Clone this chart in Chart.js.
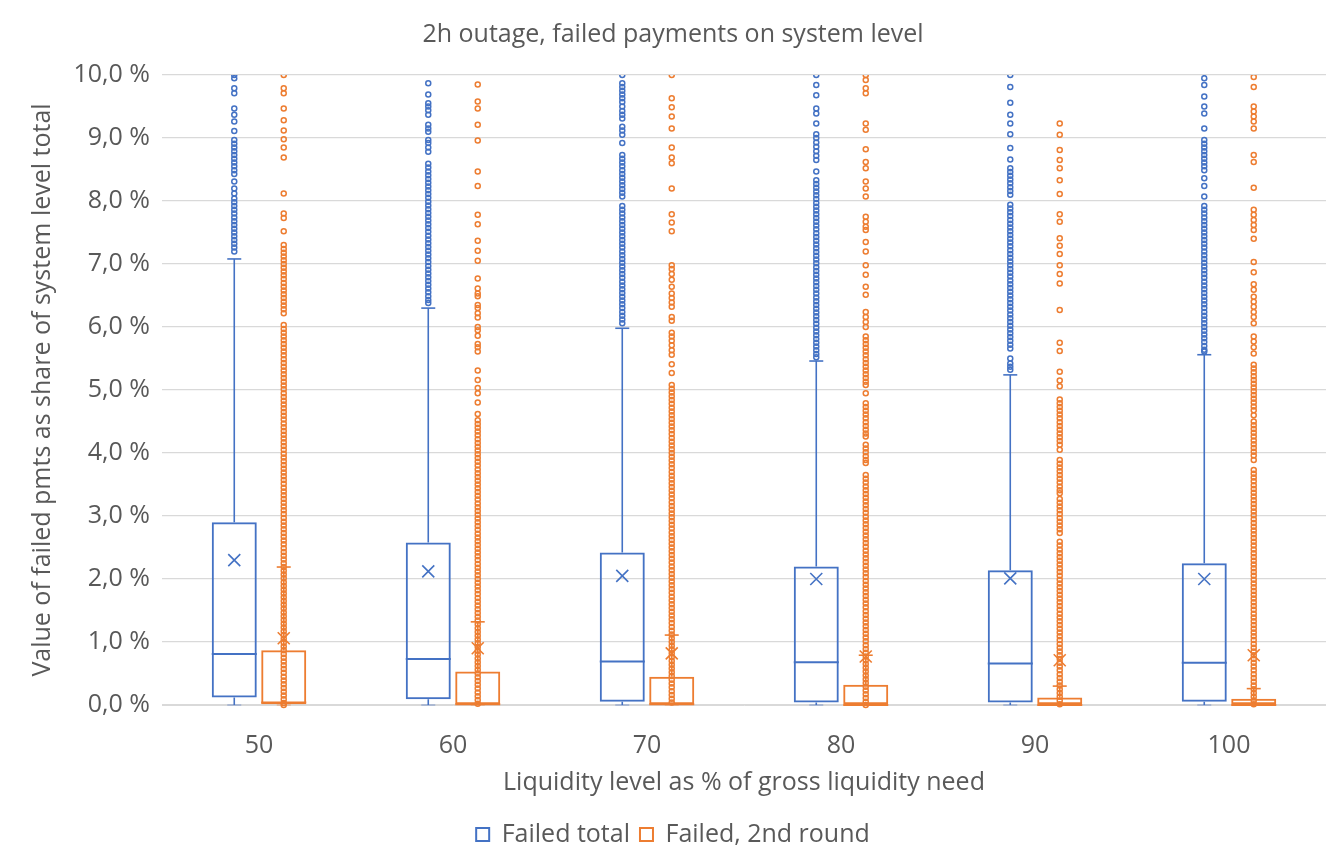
<!DOCTYPE html>
<html>
<head>
<meta charset="utf-8">
<title>2h outage, failed payments on system level</title>
<script src="https://cdn.jsdelivr.net/npm/chart.js@4.4.1/dist/chart.umd.min.js"></script>
<style>
    html, body { margin: 0; padding: 0; background: #fff; }
    #wrap { width: 1326px; height: 866px; position: relative; }
</style>
</head>
<body>
<div id="wrap"><canvas id="boxChart"></canvas></div>
<script>
// --- DATA (values in % of system level total) ---
const categories = ['50', '60', '70', '80', '90', '100'];

// Failed total: box statistics
const totalMin    = [0, 0, 0, 0, 0, 0];
const totalQ1     = [0.12, 0.09, 0.05, 0.04, 0.04, 0.05];
const totalMedian = [0.81, 0.73, 0.69, 0.68, 0.66, 0.67];
const totalQ3     = [2.90, 2.58, 2.42, 2.20, 2.14, 2.25];
const totalMean   = [2.30, 2.12, 2.05, 2.00, 2.01, 2.00];
const totalMax    = [7.08, 6.30, 5.98, 5.46, 5.24, 5.56];

// Failed, 2nd round: box statistics
const roundMin    = [0, 0, 0, 0, 0, 0];
const roundQ1     = [0, 0, 0, 0, 0, 0];
const roundMedian = [0.04, 0.01, 0.01, 0.0, 0.0, 0.0];
const roundQ3     = [0.87, 0.53, 0.45, 0.32, 0.12, 0.10];
const roundMean   = [1.06, 0.90, 0.82, 0.77, 0.71, 0.79];
const roundMax    = [2.19, 1.32, 1.11, 0.79, 0.30, 0.26];

// Failed total: outliers shown above the whisker
const totalPoints50 = [10.0, 9.95, 9.79, 9.71, 9.47, 9.37, 9.26, 9.11, 8.97, 8.91, 8.85, 8.79, 8.73, 8.67, 8.61, 8.55, 8.49, 8.43,
    8.31, 8.20, 8.12, 8.04, 7.98, 7.92, 7.86, 7.80, 7.74, 7.68, 7.62, 7.56, 7.50, 7.44, 7.38, 7.32, 7.26, 7.20];
const totalPoints60 = [9.87, 9.69, 9.55, 9.50, 9.44, 9.37, 9.21, 9.15, 9.10, 8.97, 8.92, 8.85, 8.78, 8.59, 8.53, 8.47, 8.41, 8.35,
    8.29, 8.23, 8.17, 8.11, 8.05, 7.99, 7.93, 7.87, 7.81, 7.75, 7.69, 7.63, 7.57, 7.51, 7.45, 7.39, 7.33, 7.27, 7.21, 7.15, 7.09,
    7.03, 6.97, 6.91, 6.85, 6.79, 6.73, 6.67, 6.61, 6.55, 6.49, 6.43, 6.38];
const totalPoints70 = [10.0, 9.87, 9.81, 9.75, 9.69, 9.63, 9.57, 9.50, 9.43, 9.37, 9.31, 9.18, 9.12, 9.05, 8.92, 8.73, 8.67, 8.61,
    8.55, 8.49, 8.43, 8.37, 8.31, 8.25, 8.19, 8.13, 8.07, 7.92, 7.86, 7.80, 7.74, 7.68, 7.62, 7.56, 7.50, 7.44, 7.38, 7.32, 7.26,
    7.20, 7.14, 7.08, 7.02, 6.96, 6.90, 6.84, 6.78, 6.72, 6.66, 6.60, 6.54, 6.48, 6.42, 6.36, 6.30, 6.24, 6.18, 6.12, 6.06];
const totalPoints80 = [10.0, 9.84, 9.68, 9.47, 9.39, 9.23, 9.06, 9.00, 8.93, 8.86, 8.79, 8.72, 8.65, 8.47, 8.33, 8.27, 8.21, 8.15,
    8.09, 8.03, 7.97, 7.91, 7.85, 7.79, 7.73, 7.67, 7.61, 7.55, 7.49, 7.43, 7.37, 7.31, 7.25, 7.19, 7.13, 7.07, 7.01, 6.95, 6.89,
    6.83, 6.77, 6.71, 6.65, 6.59, 6.53, 6.47, 6.41, 6.35, 6.29, 6.23, 6.17, 6.11, 6.05, 5.99, 5.93, 5.87, 5.81, 5.75, 5.69, 5.63,
    5.57, 5.52];
const totalPoints90 = [10.0, 9.81, 9.56, 9.37, 9.23, 9.06, 8.84, 8.66, 8.52, 8.46, 8.40, 8.34, 8.28, 8.22, 8.16, 8.10, 7.94, 7.88,
    7.82, 7.76, 7.70, 7.64, 7.58, 7.52, 7.46, 7.40, 7.34, 7.28, 7.22, 7.16, 7.10, 7.04, 6.98, 6.92, 6.86, 6.80, 6.74, 6.68, 6.62,
    6.56, 6.50, 6.44, 6.38, 6.32, 6.26, 6.20, 6.14, 6.08, 6.02, 5.96, 5.90, 5.84, 5.78, 5.72, 5.66, 5.50, 5.42, 5.37, 5.32];
const totalPoints100 = [9.95, 9.84, 9.66, 9.50, 9.39, 9.15, 8.97, 8.91, 8.85, 8.79, 8.73, 8.67, 8.61, 8.55, 8.49, 8.36, 8.24, 8.07,
    7.92, 7.86, 7.80, 7.74, 7.68, 7.62, 7.56, 7.50, 7.44, 7.38, 7.32, 7.26, 7.20, 7.14, 7.08, 7.02, 6.96, 6.90, 6.84, 6.78, 6.72,
    6.66, 6.60, 6.54, 6.48, 6.42, 6.36, 6.30, 6.24, 6.18, 6.12, 6.06, 6.00, 5.94, 5.88, 5.82, 5.76, 5.70, 5.64, 5.61];

// Failed, 2nd round: all data points (inner points shown too)
const roundPoints50 = [10.0, 9.79, 9.71, 9.47, 9.28, 9.12, 8.98, 8.85, 8.69, 8.12, 7.80, 7.73, 7.52, 7.30, 7.24, 7.18, 7.12, 7.06,
    7.00, 6.94, 6.88, 6.82, 6.76, 6.70, 6.64, 6.58, 6.52, 6.46, 6.40, 6.34, 6.28, 6.22, 6.03, 5.97, 5.91, 5.85, 5.79, 5.73, 5.67,
    5.61, 5.55, 5.49, 5.43, 5.37, 5.31, 5.25, 5.19, 5.13, 5.07, 5.01, 4.95, 4.89, 4.83, 4.77, 4.71, 4.65, 4.59, 4.53, 4.47, 4.41,
    4.35, 4.29, 4.23, 4.17, 4.11, 4.05, 3.99, 3.93, 3.87, 3.81, 3.75, 3.69, 3.63, 3.57, 3.51, 3.45, 3.39, 3.33, 3.27, 3.21, 3.15,
    3.09, 3.03, 2.97, 2.91, 2.85, 2.79, 2.73, 2.67, 2.61, 2.55, 2.49, 2.43, 2.37, 2.31, 2.25, 2.19, 2.13, 2.07, 2.01, 1.95, 1.89,
    1.83, 1.77, 1.71, 1.65, 1.59, 1.53, 1.47, 1.41, 1.35, 1.29, 1.23, 1.17, 1.11, 1.05, 0.99, 0.93, 0.87, 0.81, 0.75, 0.69, 0.63,
    0.57, 0.51, 0.45, 0.39, 0.33, 0.27, 0.21, 0.15, 0.09, 0.03, 0.0];
const roundPoints60 = [9.85, 9.58, 9.47, 9.21, 8.96, 8.47, 8.24, 7.78, 7.63, 7.37, 7.21, 7.05, 6.77, 6.61, 6.53, 6.49, 6.35, 6.30,
    6.22, 6.15, 6.00, 5.95, 5.86, 5.73, 5.68, 5.61, 5.31, 5.16, 5.03, 4.95, 4.80, 4.62, 4.52, 4.46, 4.40, 4.34, 4.28, 4.22, 4.16,
    4.10, 4.04, 3.98, 3.92, 3.86, 3.80, 3.74, 3.68, 3.62, 3.56, 3.50, 3.44, 3.38, 3.32, 3.26, 3.20, 3.14, 3.08, 3.02, 2.96, 2.90,
    2.84, 2.78, 2.72, 2.66, 2.60, 2.54, 2.48, 2.42, 2.36, 2.30, 2.24, 2.18, 2.12, 2.06, 2.00, 1.94, 1.88, 1.82, 1.76, 1.70, 1.64,
    1.58, 1.52, 1.46, 1.40, 1.34, 1.28, 1.22, 1.16, 1.10, 1.04, 0.98, 0.92, 0.86, 0.80, 0.74, 0.68, 0.62, 0.56, 0.50, 0.44, 0.38,
    0.32, 0.26, 0.20, 0.14, 0.08, 0.02];
const roundPoints70 = [10.0, 9.63, 9.49, 9.34, 9.15, 8.85, 8.69, 8.60, 8.20, 7.79, 7.66, 7.52, 6.98, 6.92, 6.84, 6.75, 6.64, 6.53,
    6.46, 6.39, 6.32, 6.16, 6.10, 5.91, 5.85, 5.78, 5.71, 5.63, 5.56, 5.41, 5.27, 5.08, 5.02, 4.96, 4.90, 4.84, 4.78, 4.72, 4.66,
    4.60, 4.54, 4.48, 4.42, 4.36, 4.30, 4.24, 4.18, 4.12, 4.06, 4.00, 3.94, 3.88, 3.82, 3.76, 3.70, 3.64, 3.58, 3.52, 3.46, 3.40,
    3.34, 3.28, 3.22, 3.16, 3.10, 3.04, 2.98, 2.92, 2.86, 2.80, 2.74, 2.68, 2.62, 2.56, 2.50, 2.44, 2.38, 2.32, 2.26, 2.20, 2.14,
    2.08, 2.02, 1.96, 1.90, 1.84, 1.78, 1.72, 1.66, 1.60, 1.54, 1.48, 1.42, 1.36, 1.30, 1.24, 1.18, 1.12, 1.06, 1.00, 0.94, 0.88,
    0.82, 0.76, 0.70, 0.64, 0.58, 0.52, 0.46, 0.40, 0.34, 0.28, 0.22, 0.16, 0.10, 0.04];
const roundPoints80 = [10.0, 9.92, 9.79, 9.71, 9.23, 9.13, 8.82, 8.62, 8.52, 8.31, 8.20, 8.07, 7.75, 7.67, 7.59, 7.54, 7.35, 7.20,
    6.98, 6.83, 6.64, 6.51, 6.24, 6.16, 6.08, 6.00, 5.85, 5.79, 5.73, 5.67, 5.61, 5.55, 5.49, 5.43, 5.37, 5.31, 5.25, 5.19, 5.13,
    5.08, 4.95, 4.79, 4.73, 4.67, 4.61, 4.55, 4.49, 4.43, 4.37, 4.31, 4.26, 4.13, 4.07, 4.01, 3.95, 3.89, 3.84, 3.65, 3.59, 3.53,
    3.47, 3.41, 3.35, 3.29, 3.23, 3.17, 3.11, 3.05, 2.99, 2.93, 2.87, 2.81, 2.75, 2.69, 2.63, 2.57, 2.51, 2.45, 2.39, 2.33, 2.27,
    2.21, 2.15, 2.09, 2.03, 1.97, 1.91, 1.85, 1.79, 1.73, 1.67, 1.61, 1.55, 1.49, 1.43, 1.37, 1.31, 1.25, 1.19, 1.13, 1.07, 1.01,
    0.95, 0.89, 0.83, 0.77, 0.71, 0.65, 0.59, 0.53, 0.47, 0.41, 0.35, 0.29, 0.23, 0.17, 0.11, 0.05, 0.0];
const roundPoints90 = [9.23, 9.05, 8.81, 8.65, 8.52, 8.33, 8.11, 7.79, 7.67, 7.41, 7.29, 7.16, 6.98, 6.84, 6.69, 6.27, 5.75, 5.62,
    5.29, 5.15, 5.06, 4.85, 4.79, 4.73, 4.67, 4.61, 4.55, 4.49, 4.43, 4.37, 4.31, 4.25, 4.19, 4.13, 4.05, 3.89, 3.83, 3.77, 3.71,
    3.65, 3.59, 3.53, 3.47, 3.41, 3.36, 3.27, 3.21, 3.15, 3.09, 3.03, 2.97, 2.91, 2.85, 2.79, 2.73, 2.59, 2.53, 2.47, 2.41, 2.35,
    2.29, 2.23, 2.17, 2.11, 2.05, 1.99, 1.93, 1.87, 1.81, 1.75, 1.69, 1.63, 1.57, 1.51, 1.45, 1.39, 1.33, 1.27, 1.21, 1.15, 1.09,
    1.03, 0.97, 0.91, 0.85, 0.79, 0.73, 0.67, 0.61, 0.55, 0.49, 0.43, 0.37, 0.31, 0.25, 0.19, 0.13, 0.07, 0.01];
const roundPoints100 = [9.97, 9.81, 9.50, 9.42, 9.34, 9.26, 9.15, 8.73, 8.62, 8.21, 7.86, 7.78, 7.70, 7.62, 7.54, 7.40, 7.03, 6.87,
    6.68, 6.59, 6.48, 6.40, 6.32, 6.24, 6.16, 6.06, 5.85, 5.77, 5.68, 5.58, 5.40, 5.34, 5.28, 5.22, 5.16, 5.10, 5.04, 4.98, 4.92,
    4.86, 4.80, 4.74, 4.68, 4.60, 4.50, 4.44, 4.38, 4.32, 4.26, 4.20, 4.14, 4.08, 4.02, 3.96, 3.89, 3.73, 3.67, 3.61, 3.55, 3.49,
    3.43, 3.37, 3.31, 3.25, 3.19, 3.13, 3.07, 3.01, 2.95, 2.89, 2.83, 2.77, 2.71, 2.65, 2.59, 2.53, 2.47, 2.41, 2.35, 2.29, 2.23,
    2.17, 2.11, 2.05, 1.99, 1.93, 1.87, 1.81, 1.75, 1.69, 1.63, 1.57, 1.51, 1.45, 1.39, 1.33, 1.27, 1.21, 1.15, 1.09, 1.03, 0.97,
    0.91, 0.85, 0.79, 0.73, 0.67, 0.61, 0.55, 0.49, 0.43, 0.37, 0.31, 0.25, 0.19, 0.13, 0.07, 0.01];

const totalPoints = [totalPoints50, totalPoints60, totalPoints70, totalPoints80, totalPoints90, totalPoints100];
const roundPoints = [roundPoints50, roundPoints60, roundPoints70, roundPoints80, roundPoints90, roundPoints100];

// --- STYLE ---
const BLUE = '#4472C4';
const ORANGE = '#ED7D31';
const TEXT = '#595959';
const GRID = '#D9D9D9';
const FONT = "'Open Sans', 'Noto Sans', sans-serif";

const boxStats = [
    { min: totalMin, median: totalMedian, mean: totalMean, max: totalMax, points: totalPoints, color: BLUE },
    { min: roundMin, median: roundMedian, mean: roundMean, max: roundMax, points: roundPoints, color: ORANGE }
];

// --- BOX PLOT EXTRAS (whiskers, median, mean, points) drawn on the bar elements ---
const boxExtras = {
    id: 'boxExtras',
    afterDatasetsDraw(chart) {
        const { ctx, chartArea, scales: { y } } = chart;
        ctx.save();
        ctx.beginPath();
        ctx.rect(chartArea.left, chartArea.top, chartArea.width, chartArea.height + 4);
        ctx.clip();

        boxStats.forEach((s, d) => {
            const meta = chart.getDatasetMeta(d);
            if (!chart.isDatasetVisible(d)) return;
            const ds = chart.data.datasets[d];

            meta.data.forEach((bar, i) => {
                const x = bar.x;
                const half = bar.width / 2;
                const q1 = ds.data[i][0], q3 = ds.data[i][1];
                ctx.strokeStyle = s.color;

                // whiskers
                ctx.lineWidth = 1.6;
                ctx.beginPath();
                ctx.moveTo(x, y.getPixelForValue(q3));
                ctx.lineTo(x, y.getPixelForValue(s.max[i]));
                ctx.moveTo(x, y.getPixelForValue(q1));
                ctx.lineTo(x, y.getPixelForValue(s.min[i]));
                ctx.stroke();

                // caps
                const yMax = y.getPixelForValue(s.max[i]);
                ctx.beginPath();
                ctx.moveTo(x - 7, yMax);
                ctx.lineTo(x + 7, yMax);
                ctx.stroke();
                ctx.save();
                ctx.globalAlpha = 0.3;
                ctx.lineWidth = 2;
                const yMin = y.getPixelForValue(s.min[i]);
                ctx.beginPath();
                ctx.moveTo(x - 7, yMin);
                ctx.lineTo(x + 7, yMin);
                ctx.stroke();
                ctx.restore();

                // median
                ctx.lineWidth = 2;
                const yMed = y.getPixelForValue(s.median[i]);
                ctx.beginPath();
                ctx.moveTo(x - half, yMed);
                ctx.lineTo(x + half, yMed);
                ctx.stroke();

                // points
                ctx.lineWidth = 1.5;
                s.points[i].forEach(v => {
                    ctx.beginPath();
                    ctx.arc(x, y.getPixelForValue(v), 2.5, 0, Math.PI * 2);
                    ctx.stroke();
                });

                // mean marker (x)
                const yMean = y.getPixelForValue(s.mean[i]);
                ctx.lineWidth = 1.6;
                ctx.beginPath();
                ctx.moveTo(x - 6, yMean - 6);
                ctx.lineTo(x + 6, yMean + 6);
                ctx.moveTo(x + 6, yMean - 6);
                ctx.lineTo(x - 6, yMean + 6);
                ctx.stroke();
            });
        });
        ctx.restore();
    }
};

function initChart() {
    const ctx = document.getElementById('boxChart').getContext('2d');

    new Chart(ctx, {
        type: 'bar',
        data: {
            labels: categories,
            datasets: [
                {
                    label: 'Failed total',
                    data: categories.map((c, i) => [totalQ1[i], totalQ3[i]]),
                    backgroundColor: 'rgba(255,255,255,0)',
                    borderColor: BLUE,
                    borderWidth: 2,
                    borderSkipped: false,
                    categoryPercentage: 0.51,
                    barPercentage: 0.91
                },
                {
                    label: 'Failed, 2nd round',
                    data: categories.map((c, i) => [roundQ1[i], roundQ3[i]]),
                    backgroundColor: 'rgba(255,255,255,0)',
                    borderColor: ORANGE,
                    borderWidth: 2,
                    borderSkipped: false,
                    categoryPercentage: 0.51,
                    barPercentage: 0.91
                }
            ]
        },
        options: {
            responsive: true,
            maintainAspectRatio: false,
            animation: false,
            layout: { padding: { left: 20, right: 0, top: 10, bottom: 9 } },
            plugins: {
                title: {
                    display: true,
                    text: '2h outage, failed payments on system level',
                    color: TEXT,
                    font: { family: FONT, size: 25, weight: 'normal' },
                    padding: { top: 10, bottom: 25 }
                },
                legend: {
                    position: 'bottom',
                    labels: {
                        color: TEXT,
                        font: { family: FONT, size: 25 },
                        boxWidth: 13,
                        boxHeight: 13,
                        padding: 10
                    }
                },
                tooltip: { enabled: false }
            },
            scales: {
                x: {
                    grid: { display: false },
                    border: { display: true, color: GRID },
                    ticks: { color: TEXT, font: { family: FONT, size: 25 }, padding: 18 },
                    title: {
                        display: true,
                        text: 'Liquidity level as % of gross liquidity need',
                        color: TEXT,
                        font: { family: FONT, size: 25 },
                        padding: { top: 0, bottom: 14 }
                    },
                    afterFit(scale) { scale.height = 107; }
                },
                y: {
                    min: 0,
                    max: 10,
                    grid: { color: GRID, lineWidth: 1.3, drawTicks: false },
                    border: { display: false },
                    ticks: {
                        stepSize: 1,
                        color: TEXT,
                        font: { family: FONT, size: 25 },
                        padding: 12,
                        callback: v => v.toFixed(1).replace('.', ',') + ' %'
                    },
                    title: {
                        display: true,
                        text: 'Value of failed pmts as share of system level total',
                        color: TEXT,
                        font: { family: FONT, size: 25 },
                        padding: { top: 8, bottom: 0 }
                    },
                    afterFit(scale) { scale.width = 142; }
                }
            }
        },
        plugins: [boxExtras]
    });
}

document.addEventListener('DOMContentLoaded', initChart);
</script>
</body>
</html>
